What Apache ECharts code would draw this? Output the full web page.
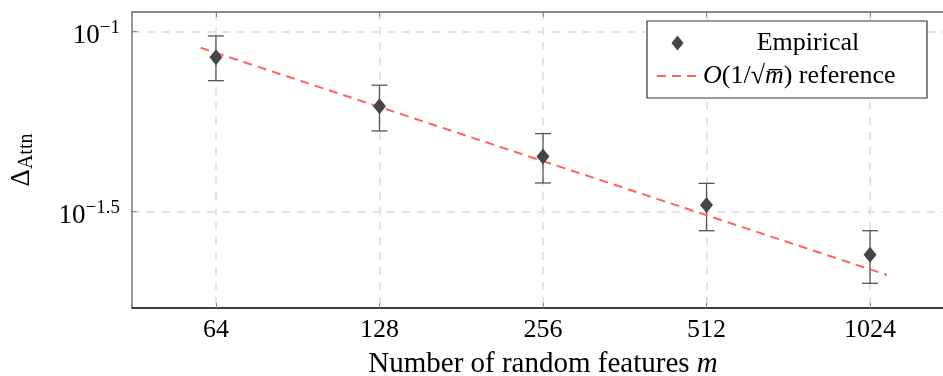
<!DOCTYPE html>
<html><head><meta charset="utf-8">
<script src="https://cdn.jsdelivr.net/npm/echarts@6/dist/echarts.min.js"></script>
<style>html,body{margin:0;padding:0;background:#fff}#c{width:943px;height:376px}</style>
</head><body><div id="c"></div>
<script>
// ---- data ----
const features = [64, 128, 256, 512, 1024];
const empirical = [0.0849, 0.0621, 0.0450, 0.0330, 0.0240];
const errLow = [0.0731, 0.0530, 0.0380, 0.0280, 0.0200];
const errHigh = [0.0973, 0.0710, 0.0521, 0.0379, 0.0280];
const refM = [60, 1100];
const refVals = [0.0902, 0.0211];
const xTickLabels = ['64', '128', '256', '512', '1024'];
const yTickExps = ['−1', '−1.5'];
const yTickVals = [0.1, 0.031623];

const F = 'Liberation Serif';
const chart = echarts.init(document.getElementById('c'), null, {renderer: 'canvas'});

const scatterData = features.map((m, i) => [m, empirical[i]]);
const errData = features.map((m, i) => [m, errLow[i], errHigh[i]]);
const refData = refM.map((m, i) => [m, refVals[i]]);

function yFmt(v) {
  for (let i = 0; i < yTickVals.length; i++) {
    if (Math.abs(Math.log10(v) - Math.log10(yTickVals[i])) < 0.01) return '{b|10}{s|' + yTickExps[i] + '}';
  }
  return '';
}
function xFmt(v) {
  for (let i = 0; i < features.length; i++) {
    if (Math.abs(v - features[i]) / features[i] < 0.01) return xTickLabels[i];
  }
  return '';
}

const option = {
  animation: false,
  backgroundColor: '#fff',
  grid: {left: 132, top: 12, right: -11, bottom: 68, containLabel: false, outerBoundsMode: 'none', show: false},
  xAxis: [{
    type: 'log', logBase: 2, min: 44.84, max: 1461.6,
    axisLine: {show: true, lineStyle: {color: '#000', width: 1.5}},
    axisTick: {show: true, inside: true, length: 5, lineStyle: {color: '#888', width: 1}},
    axisLabel: {show: true, formatter: xFmt, fontFamily: F, fontSize: 26, color: '#000', margin: 9, showMinLabel: false, showMaxLabel: false},
    splitLine: {show: true, showMinLine: false, showMaxLine: false, lineStyle: {color: '#dcdcdc', width: 1.5, type: [8, 7]}},
    name: 'Number of random features {i|m}',
    nameLocation: 'middle', nameGap: 42,
    nameTextStyle: {fontFamily: F, fontSize: 29, color: '#000', rich: {i: {fontFamily: F, fontSize: 29, fontStyle: 'italic', color: '#000'}}}
  }, {
    type: 'log', logBase: 2, min: 44.84, max: 1461.6, position: 'top',
    axisLine: {show: true, lineStyle: {color: '#666', width: 1.5}},
    axisTick: {show: true, inside: true, length: 5, lineStyle: {color: '#888', width: 1}},
    axisLabel: {show: false}, splitLine: {show: false}
  }],
  yAxis: [{
    type: 'log', logBase: Math.sqrt(10), min: 0.01708, max: 0.1134,
    axisLine: {show: true, lineStyle: {color: '#777', width: 1.5}},
    axisTick: {show: true, inside: true, length: 5, lineStyle: {color: '#888', width: 1}},
    axisLabel: {
      show: true, formatter: yFmt, margin: 12, showMinLabel: false, showMaxLabel: false,
      rich: {
        b: {fontFamily: F, fontSize: 27, color: '#000', verticalAlign: 'bottom', padding: [8, 0, 0, 0]},
        s: {fontFamily: F, fontSize: 19, color: '#000', verticalAlign: 'top', padding: [4, 0, 0, 0]}
      }
    },
    splitLine: {show: true, showMinLine: false, showMaxLine: false, lineStyle: {color: '#dcdcdc', width: 1.5, type: [8, 7]}},
    name: '{d|Δ}{a|Attn}', nameLocation: 'middle', nameGap: 95, nameRotate: 90,
    nameTextStyle: {rich: {
      d: {fontFamily: F, fontSize: 27, color: '#000', lineHeight: 30, verticalAlign: 'middle'},
      a: {fontFamily: F, fontSize: 20, color: '#000', verticalAlign: 'bottom'}
    }}
  }],
  legend: {
    show: true, left: 647, top: 21, orient: 'vertical',
    symbolKeepAspect: true,
    data: [
      {name: 'Empirical', icon: 'path://M0,8 L6.5,0 L13,8 L6.5,16 Z'},
      {name: 'ref', itemStyle: {opacity: 0}}
    ],
    backgroundColor: '#fff', borderColor: '#333', borderWidth: 1.2, borderRadius: 0,
    padding: [9, 14, 9, 9], itemGap: 7, itemWidth: 41, itemHeight: 15, itemTextGap: 10,
    formatter: function (name) {
      if (name === 'Empirical') return '{c|Empirical}';
      return '{it|O}{n|(1/√}{it|m\u0305}{n|) reference}';
    },
    textStyle: {
      fontFamily: F, fontSize: 26, color: '#000', lineHeight: 26,
      rich: {
        c: {fontFamily: F, fontSize: 26, color: '#000', width: 210, align: 'center', lineHeight: 26},
        it: {fontFamily: F, fontSize: 26, color: '#000', fontStyle: 'italic', lineHeight: 26},
        n: {fontFamily: F, fontSize: 26, color: '#000', lineHeight: 26}
      }
    }
  },
  series: [{
    type: 'custom', name: 'err', xAxisIndex: 0, yAxisIndex: 0, z: 2,
    data: errData,
    renderItem: function (params, api) {
      const x = api.value(0);
      const pHi = api.coord([x, api.value(2)]);
      const pLo = api.coord([x, api.value(1)]);
      const hw = 8;
      const st = {stroke: '#555', lineWidth: 1.3};
      return {type: 'group', children: [
        {type: 'line', shape: {x1: pHi[0], y1: pHi[1], x2: pLo[0], y2: pLo[1]}, style: st},
        {type: 'line', shape: {x1: pHi[0] - hw, y1: pHi[1], x2: pHi[0] + hw, y2: pHi[1]}, style: st},
        {type: 'line', shape: {x1: pLo[0] - hw, y1: pLo[1], x2: pLo[0] + hw, y2: pLo[1]}, style: st}
      ]};
    }
  }, {
    type: 'line', name: 'ref', xAxisIndex: 0, yAxisIndex: 0, z: 3,
    data: refData, symbol: 'none', showSymbol: false,
    lineStyle: {color: '#ff6363', width: 2, type: [9, 6]},
    itemStyle: {color: '#ff6363'}
  }, {
    type: 'scatter', name: 'Empirical', xAxisIndex: 0, yAxisIndex: 0, z: 4,
    data: scatterData, symbol: 'diamond', symbolSize: [13, 16],
    itemStyle: {color: '#454545', opacity: 1}
  }]
};
chart.setOption(option);
</script>
</body></html>
